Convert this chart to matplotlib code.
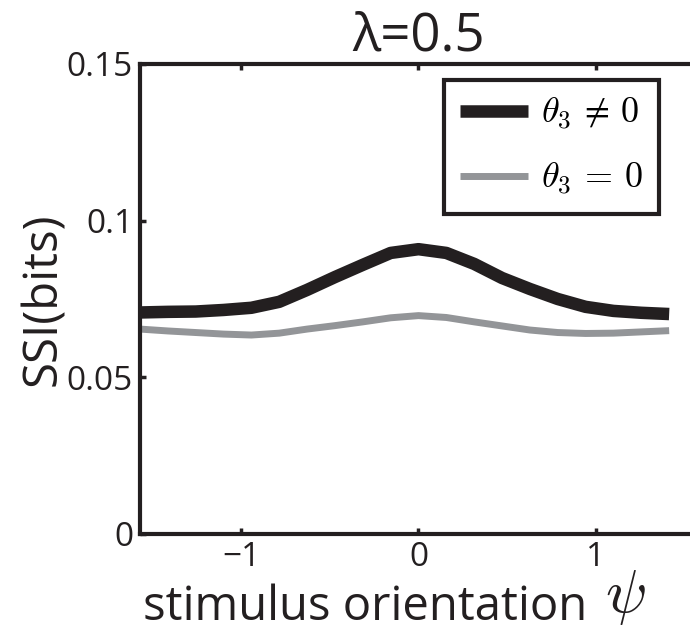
import numpy as np
import matplotlib
matplotlib.use("Agg")
import matplotlib.pyplot as plt

plt.rcParams['font.family'] = ['Open Sans', 'DejaVu Sans']
plt.rcParams['mathtext.fontset'] = 'cm'

# Data: stimulus orientation psi (20 samples over [-pi/2, pi/2) )
psi = -np.pi / 2 + np.arange(20) * np.pi / 20
ssi_theta3_nonzero = [0.0707, 0.0709, 0.0710, 0.0715, 0.0722, 0.0741, 0.0779, 0.0820, 0.0859, 0.0897,
                      0.0909, 0.0897, 0.0862, 0.0817, 0.0782, 0.0750, 0.0725, 0.0712, 0.0706, 0.0702]
ssi_theta3_zero = [0.0654, 0.0648, 0.0643, 0.0638, 0.0635, 0.0641, 0.0654, 0.0665, 0.0677, 0.0690,
                   0.0697, 0.0691, 0.0677, 0.0664, 0.0651, 0.0643, 0.0640, 0.0641, 0.0645, 0.0649]
labels = [r'$\theta_3\,\neq\,0$', r'$\theta_3\,=\,0$']
xticks = [-1, 0, 1]
xticklabels = ['\u22121', '0', '1']
yticks = [0, 0.05, 0.1, 0.15]
yticklabels = ['0', '0.05', '0.1', '0.15']

fig = plt.figure(figsize=(6.9, 6.33), dpi=100)
ax = fig.add_axes([140 / 690, 99 / 633, 557 / 690, 470 / 633])

ax.plot(psi, ssi_theta3_nonzero, color='#231f20', lw=9, label=labels[0], solid_capstyle='butt')
ax.plot(psi, ssi_theta3_zero, color='#939598', lw=5, label=labels[1], solid_capstyle='butt')

ax.set_xlim(-np.pi / 2, np.pi / 2)
ax.set_ylim(0, 0.15)
ax.set_xticks(xticks)
ax.set_xticklabels(xticklabels, fontsize=24)
ax.set_yticks(yticks)
ax.set_yticklabels(yticklabels, fontsize=24)
ax.tick_params(direction='in', length=4, width=2.5, top=True, right=True, pad=5,
               colors='#231f20', labelcolor='#231f20')
for s in ax.spines.values():
    s.set_linewidth(3)
    s.set_color('#231f20')

ax.set_title('\u03bb=0.5', fontsize=38, pad=10, color='#231f20')
ax.set_ylabel('SSI(bits)', fontsize=34, labelpad=0, color='#231f20')
ax.set_xlabel('stimulus orientation', fontsize=34, color='#231f20')
ax.xaxis.set_label_coords(0.405, -0.105, transform=ax.transAxes)
ax.xaxis.label.set_verticalalignment('top')
fig.text(625 / 690, 1 - 597 / 633, r'$\psi$', fontsize=44, ha='center', va='center', color='#231f20')

leg = ax.legend(loc='upper right', bbox_to_anchor=(0.932, 0.966), borderaxespad=0,
                fontsize=26, handlelength=1.9, handletextpad=0.35, labelspacing=0.8,
                borderpad=0.45, fancybox=False, framealpha=1)
leg.get_frame().set_edgecolor('#231f20')
leg.get_frame().set_linewidth(3)

fig.savefig('out.png', dpi=100)
